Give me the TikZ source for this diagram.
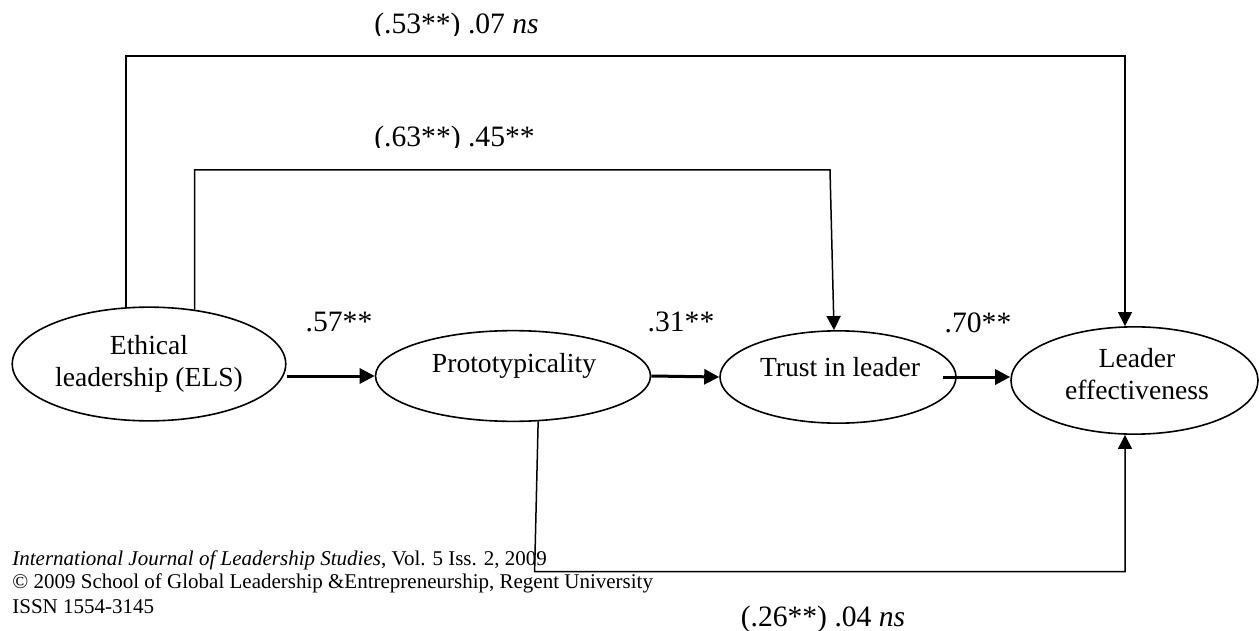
\documentclass[tikz,border=0pt]{standalone}
\usepackage{fontspec}
\setmainfont{Liberation Serif}
\usetikzlibrary{shapes.geometric,arrows.meta}
\begin{document}
\begin{tikzpicture}[x=0.5pt,y=-0.5pt,
  var/.style={ellipse, draw, line width=0.8pt, inner sep=0pt, align=center,
              font=\fontsize{13.8}{16}\selectfont},
  lbl/.style={font=\fontsize{13.8}{16}\selectfont, inner sep=0pt, anchor=base},
  coef/.style={font=\fontsize{14.8}{17}\selectfont, inner sep=0pt, anchor=base},
  conn/.style={line width=0.75pt},
  tip/.style={-{Triangle[length=7pt,width=7pt]}},
  main/.style={line width=1.5pt, -{Triangle[length=7.5pt,width=7.5pt]}},
  foot/.style={font=\fontsize{10.5}{12}\selectfont, inner sep=0pt, anchor=base west}]
\useasboundingbox (0,0) rectangle (1259,631);
% variables
\node[var, minimum width=136.75pt, minimum height=56.85pt] (els) at (149,364) {Ethical\\leadership (ELS)};
\node[var, minimum width=137.5pt, minimum height=45.35pt] (pro) at (513,376) {};
\node[var, minimum width=118pt, minimum height=46.15pt] (tr) at (838,377) {};
\node[var, minimum width=123.5pt, minimum height=53.65pt] (le) at (1134.5,380.5) {};
\node[lbl] (pro-t) at (514,372) {Prototypicality};
\node[lbl] (tr-t) at (840,376) {Trust in leader};
\node[lbl, anchor=center, align=center] (le-t) at (1137,374.5) {Leader\\effectiveness};
% corner points
\coordinate (c1) at (1125,56);
\coordinate (c2) at (830,170);
\coordinate (b1) at (534.6,571.7);
\coordinate (b2) at (1125,571.7);
% connectors
\draw[conn, tip] (els.112.5) |- (c1) -- ([xshift=-4.75pt]le.north);
\draw[conn, tip] (els.50.8) |- (c2) -- ([xshift=-2pt]tr.north);
\draw[conn, tip] (pro.-61.8) -- (b1) -- (b2) -- ([xshift=-4.75pt]le.south);
\draw[main] (els.east |- pro.west) -- (pro.west);
\draw[main] (pro.east) -- (tr.west);
\draw[main] ([xshift=-7pt]tr.east) -- (tr.east -| le.west);
% path labels
\node[coef] (l57) at (339,331.7) {.57**};
\node[coef] (l31) at (681,331.7) {.31**};
\node[coef] (l70) at (978,332) {.70**};
\begin{scope}
  \clip (300,0) rectangle (620,35.5);
  \node[coef] (l53) at (456.5,34) {(.53**) .07 \textit{ns}};
\end{scope}
\begin{scope}
  \clip (300,100) rectangle (620,147.8);
  \node[coef] (l63) at (454.5,146.7) {(.63**) .45**};
\end{scope}
\begin{scope}
  \clip (700,604.5) rectangle (960,631);
  \node[coef] (l26) at (823,626) {(.26**) .04 \textit{ns}};
\end{scope}
% footer
\node[foot] (f1) at (12,565) {\textit{International Journal of Leadership Studies}, Vol. 5 Iss. 2, 2009};
\node[foot] (f2) at (12,588) {© 2009 School of Global Leadership \&Entrepreneurship, Regent University};
\node[foot] (f3) at (12,613) {ISSN 1554-3145};
\end{tikzpicture}
\end{document}
